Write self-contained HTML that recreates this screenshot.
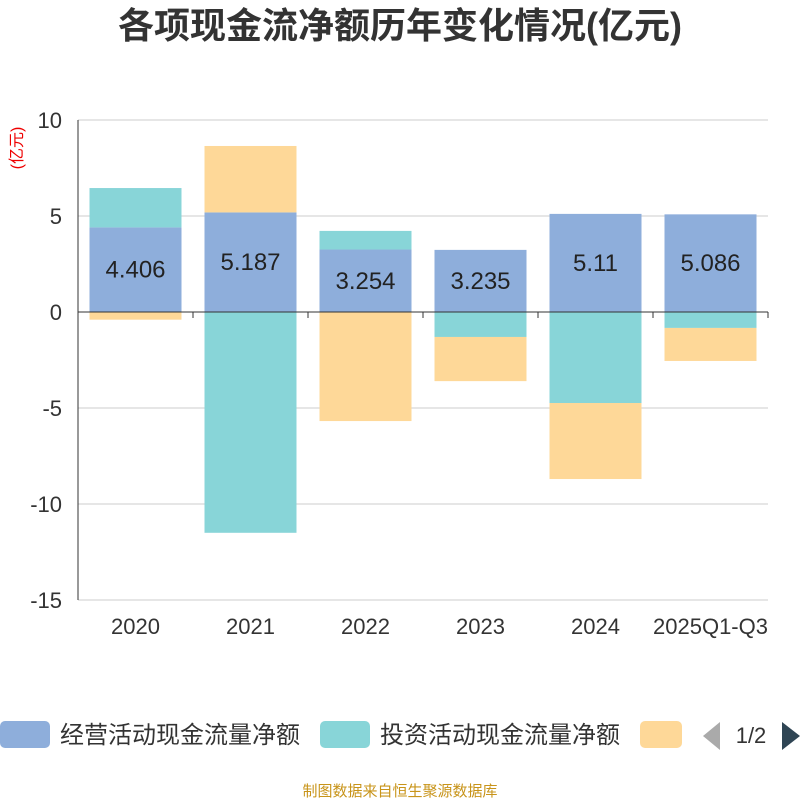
<!DOCTYPE html>
<html><head><meta charset="utf-8"><style>
body{margin:0;background:#fff;width:800px;height:800px;overflow:hidden;font-family:"Liberation Sans","Noto Sans CJK SC",sans-serif}
</style></head><body>
<svg id="c" width="800" height="800" xmlns="http://www.w3.org/2000/svg">
<text x="400" y="38" text-anchor="middle" font-size="36" font-weight="bold" fill="#333">各项现金流净额历年变化情况(亿元)</text>
<text x="22" y="148" font-size="16" fill="#e00" transform="rotate(-90 22 148)" text-anchor="middle">(亿元)</text>
<g id="grid"></g><g id="bars"></g><g id="axes"></g>
<g>
<rect x="0" y="721" width="50" height="27" rx="5" fill="#8eaedb"/>
<text x="60" y="743" font-size="24" fill="#333">经营活动现金流量净额</text>
<rect x="320" y="721" width="50" height="27" rx="5" fill="#88d5d8"/>
<text x="380" y="743" font-size="24" fill="#333">投资活动现金流量净额</text>
<rect x="640" y="721" width="42" height="27" rx="5" fill="#fed898"/>
<polygon points="720,722 720,750 703,736" fill="#aaa"/>
<text x="751" y="743" font-size="22" fill="#333" text-anchor="middle">1/2</text>
<polygon points="782,722 782,750 800,736" fill="#2f4554"/>
</g>
<text x="400" y="796" font-size="15" fill="#c8941a" text-anchor="middle">制图数据来自恒生聚源数据库</text>
</svg>
<script>
const categories=["2020","2021","2022","2023","2024","2025Q1-Q3"];
const operating=[4.406,5.187,3.254,3.235,5.11,5.086];
const investing=[2.05,-11.5,0.97,-1.3,-4.74,-0.83];
const financing=[-0.4,3.46,-5.68,-2.3,-3.96,-1.72];
const yTicks=[10,5,0,-5,-10,-15];
const NS="http://www.w3.org/2000/svg";
const x0=78,x1=768,yTop=120,yBot=600,yMax=10,yMin=-15;
const y=v=>yTop+(yMax-v)/(yMax-yMin)*(yBot-yTop);
const bw=(x1-x0)/categories.length;
const xc=i=>x0+bw*(i+0.5);
function mk(t,a,p){const e=document.createElementNS(NS,t);for(const k in a)e.setAttribute(k,a[k]);p.appendChild(e);return e;}
const grid=document.getElementById('grid'),bars=document.getElementById('bars'),axes=document.getElementById('axes');
yTicks.forEach(v=>{
 const l=mk('line',{x1:x0,x2:x1,y1:y(v),y2:y(v),stroke:'#ccc','stroke-width':1},grid);
 
 
 const t=mk('text',{x:62,y:y(v)+8,'text-anchor':'end','font-size':22,fill:'#333'},axes);
 t.textContent=v;
 
 
});
const yl=mk('line',{x1:x0,x2:x0,y1:yTop,y2:yBot,stroke:'#333'},axes);


const xl=mk('line',{x1:x0,x2:x1,y1:y(0),y2:y(0),stroke:'#333'},axes);


for(let i=0;i<=categories.length;i++){
 const tk=mk('line',{x1:x0+bw*i,x2:x0+bw*i,y1:y(0),y2:y(0)+6,stroke:'#333'},axes);
 
 
}
const series=[[operating,'#8eaedb','operating'],[investing,'#88d5d8','investing'],[financing,'#fed898','financing']];
categories.forEach((c,i)=>{
 let pos=0,neg=0;
 series.forEach(([arr,col,nm])=>{
  const v=arr[i];let a,b;
  if(v>=0){a=pos;b=pos+v;pos=b;}else{a=neg;b=neg+v;neg=b;}
  const top=y(Math.max(a,b)),h=Math.abs(y(a)-y(b));
  const r=mk('rect',{x:xc(i)-46,y:top,width:92,height:h,fill:col},bars);
  
  
 });
 const lt=mk('text',{x:xc(i),y:y(operating[i]/2)+8,'text-anchor':'middle','font-size':24,fill:'#222'},bars);
 lt.textContent=operating[i];
 
 
 const xt=mk('text',{x:xc(i),y:634,'text-anchor':'middle','font-size':22,fill:'#333'},axes);
 xt.textContent=c;
 
 
});
</script>
</body></html>
